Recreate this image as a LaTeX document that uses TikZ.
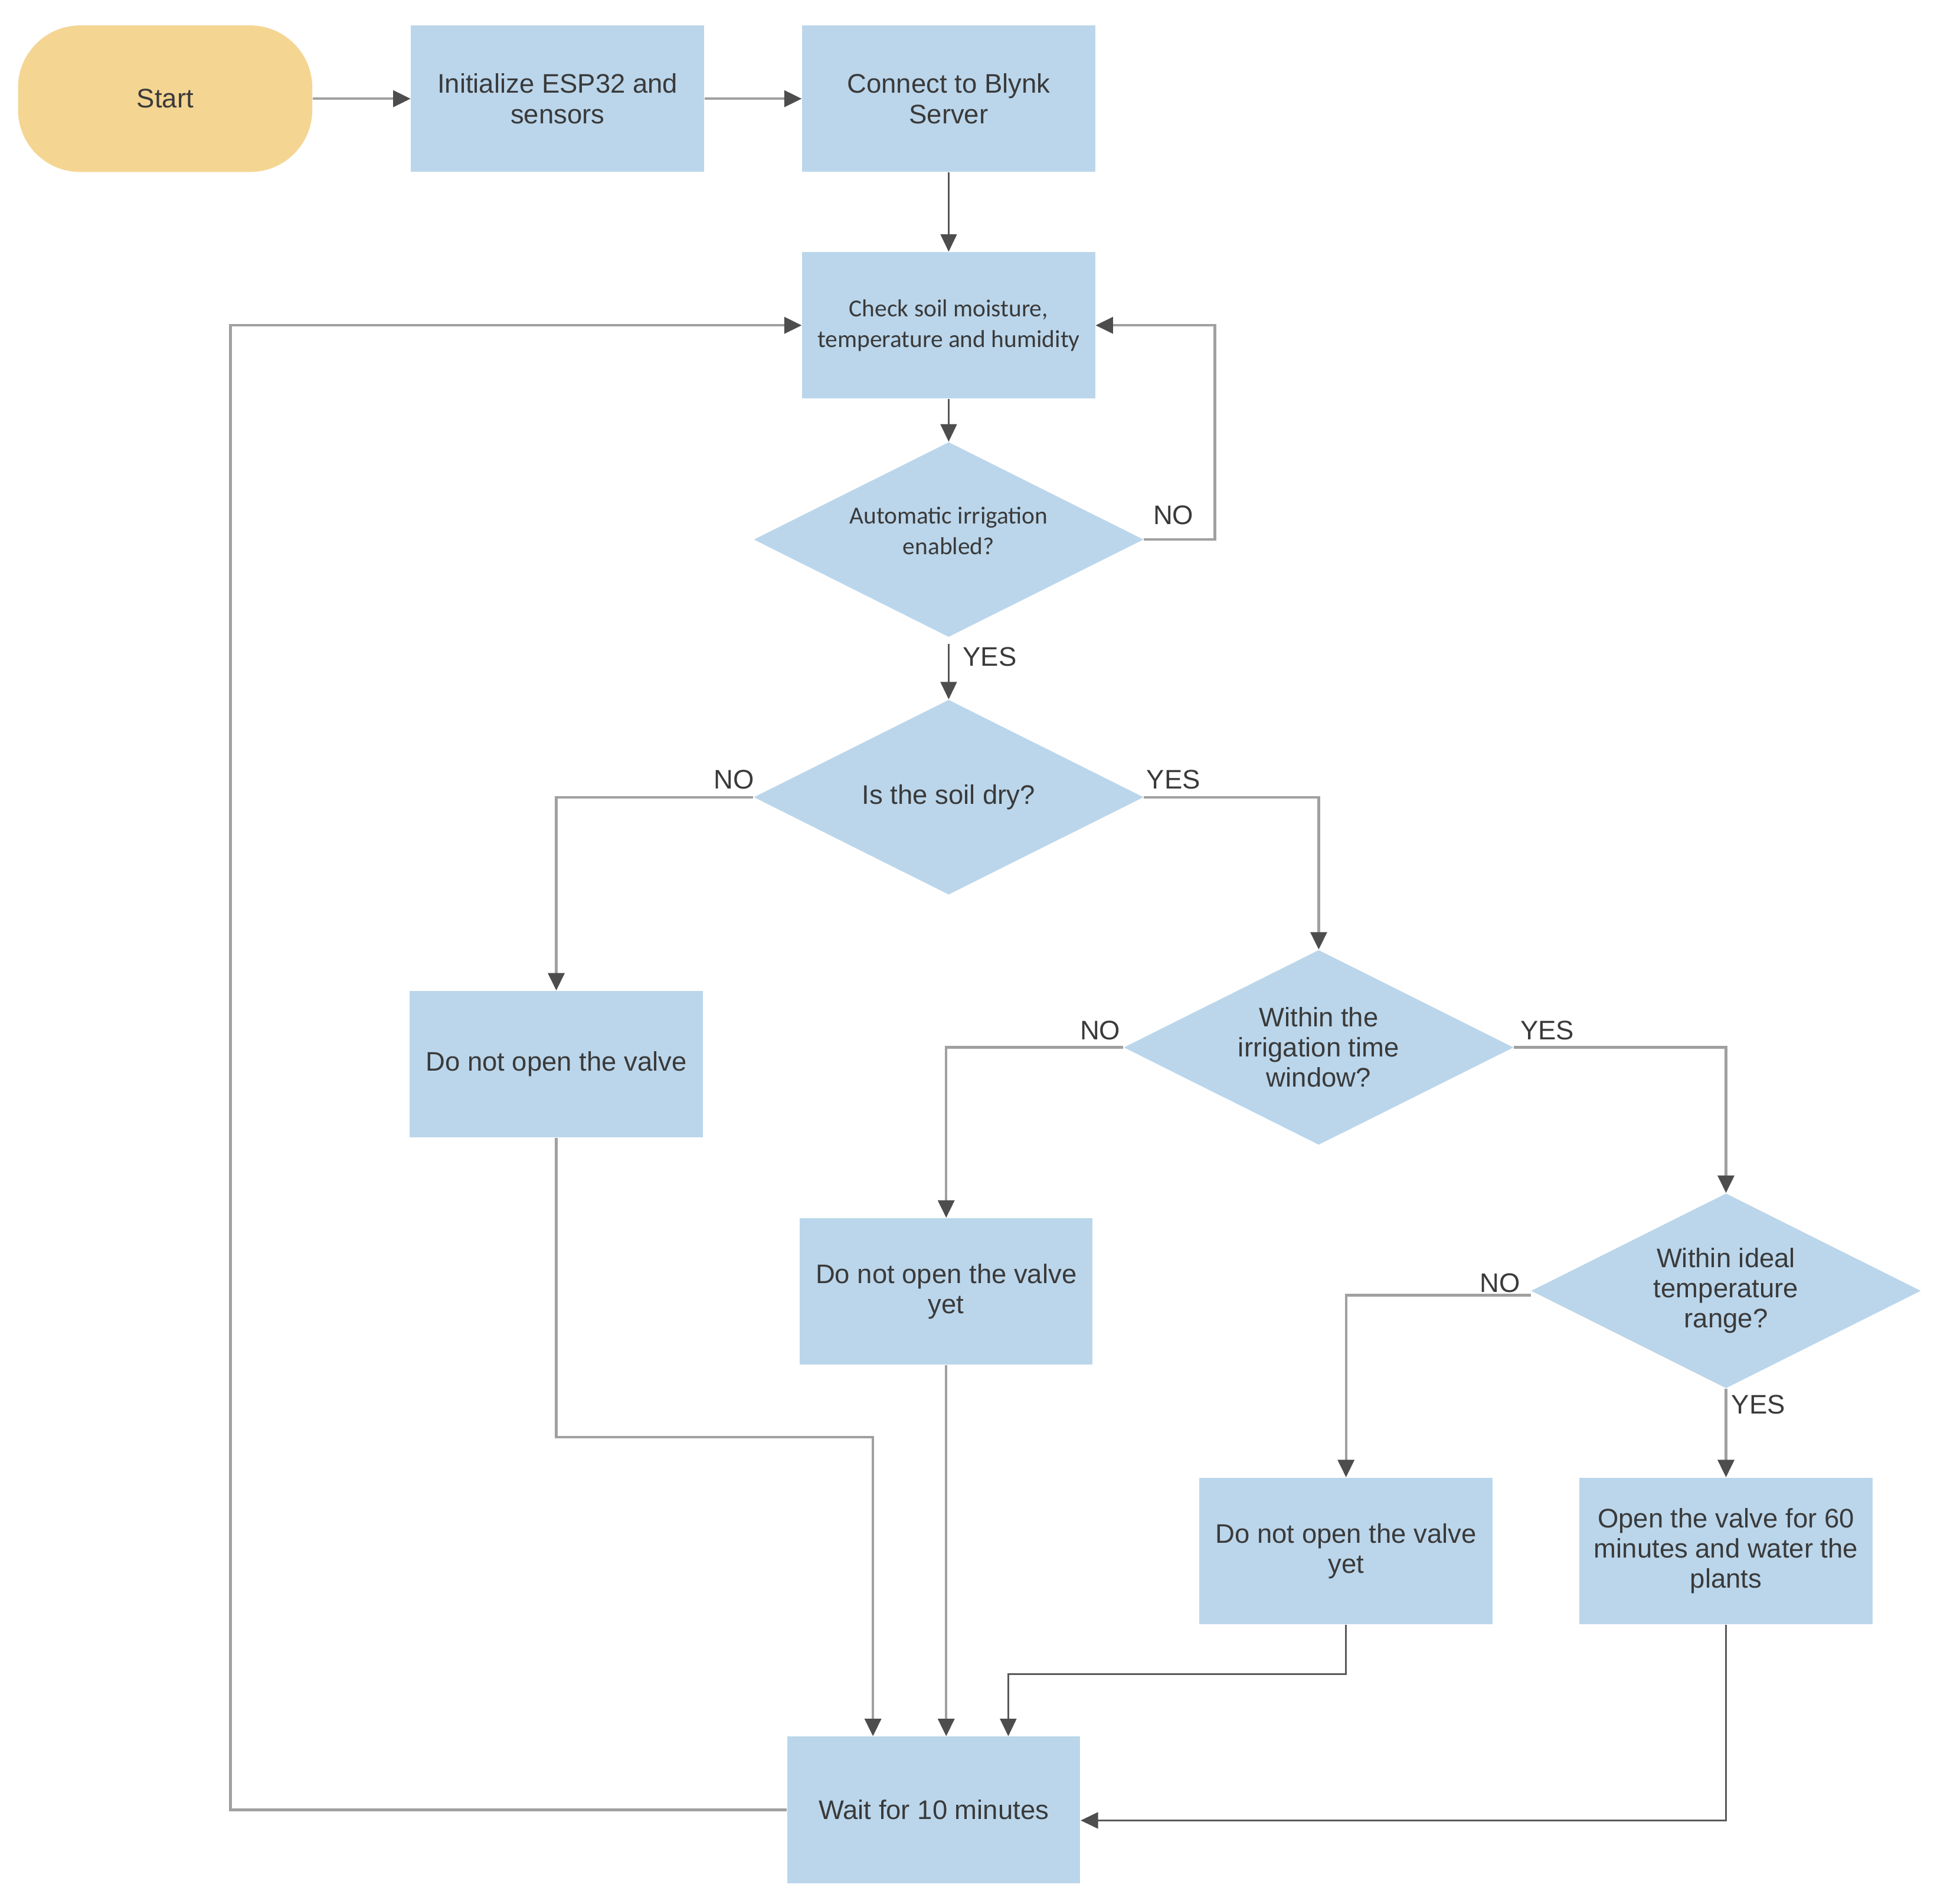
\documentclass[tikz,border=0pt]{standalone}
\usepackage{fontspec}
\setmainfont{Liberation Sans}
\newfontfamily\carlito{Carlito}
\usetikzlibrary{arrows.meta,shapes.geometric}
\definecolor{boxfill}{HTML}{BBD6EB}
\definecolor{startfill}{HTML}{F4D592}
\definecolor{txt}{HTML}{3A3A3A}
\definecolor{linegray}{HTML}{A0A0A0}
\definecolor{linedark}{HTML}{595959}
\definecolor{headc}{HTML}{4D4D4D}
\begin{document}
\begin{tikzpicture}[x=0.02cm,y=-0.02cm,
  font=\fontsize{12.3}{13.8}\selectfont,
  proc/.style={rectangle, fill=boxfill, minimum width=4.72cm, minimum height=2.36cm, inner sep=0pt, align=center, text=txt},
  dec/.style={diamond, fill=boxfill, minimum width=6.28cm, minimum height=3.14cm, inner sep=0pt, aspect=2, align=center, text=txt},
  term/.style={rectangle, rounded corners=1cm, fill=startfill, minimum width=4.74cm, minimum height=2.36cm, align=center, text=txt},
  cal/.style={font=\carlito\fontsize{11.2}{14.2}\selectfont},
  conn/.style={draw=linegray, line width=1.2pt, -{Triangle[length=8pt,width=7.5pt,color=headc]}},
  connd/.style={draw=linedark, line width=0.75pt, -{Triangle[length=8pt,width=7.5pt,color=headc]}},
  lbl/.style={inner sep=0pt, text=txt}]
\useasboundingbox (0,0) rectangle (1568,1533);
\fill[white] (0,0) rectangle (1568,1533);

% nodes
\node[term] (start) at (133,79.5) {Start};
\node[proc] (init) at (449,79.5) {Initialize ESP32 and\\sensors};
\node[proc] (blynk) at (764,79.5) {Connect to Blynk\\Server};
\node[proc, cal] (check) at (764,262) {Check soil moisture,\\temperature and humidity};
\node[dec, cal] (auto) at (764,434.5) {Automatic irrigation\\enabled?\\[-6pt]};
\node[dec] (dry) at (764,642) {Is the soil dry?};
\node[proc] (no1) at (448,857) {Do not open the valve};
\node[dec] (window) at (1062,843.5) {Within the\\irrigation time\\window?};
\node[proc] (no2) at (762,1040) {Do not open the valve\\yet};
\node[dec] (temp) at (1390,1039.5) {Within ideal\\temperature\\range?};
\node[proc] (no3) at (1084,1249) {Do not open the valve\\yet};
\node[proc] (open) at (1390,1249) {Open the valve for 60\\minutes and water the\\plants};
\node[proc] (wait) at (752,1457.5) {Wait for 10 minutes};

% connectors
\draw[conn] (start.east) -- (init.west);
\draw[conn] (init.east) -- (blynk.west);
\draw[connd] (blynk.south) -- (check.north);
\draw[connd] (check.south) -- (auto.north);
\draw[conn] (auto.east) -- ++(57,0) |- (check.east);
\draw[connd] ([yshift=-0.1cm]auto.south) -- (dry.north);
\draw[conn] (dry.west) -| (no1.north);
\draw[conn] (dry.east) -| (window.north);
\draw[conn] (window.west) -| (no2.north);
\draw[conn] (window.east) -| (temp.north);
\draw[conn] ([yshift=-0.07cm]temp.west) -| (no3.north);
\draw[conn] (temp.south) -- (open.north);
\draw[conn] (no1.south) -- ++(0,241) -| ([xshift=-0.98cm]wait.north);
\draw[conn] (no2.south) -- (no2.south |- wait.north);
\draw[connd] (no3.south) -- ++(0,40) -| ([xshift=1.2cm]wait.north);
\draw[connd] (open.south) |- ([yshift=-0.17cm]wait.east);
\draw[conn] (wait.west) -- ++(-448,0) |- (check.west);

% labels
\node[lbl] (lno1) at (945,415) {NO};
\node[lbl] (lyes1) at (797,529) {YES};
\node[lbl] (lno2) at (591,628) {NO};
\node[lbl] (lyes2) at (945,628) {YES};
\node[lbl] (lno3) at (886,830) {NO};
\node[lbl] (lyes3) at (1246,830) {YES};
\node[lbl] (lno4) at (1208,1033) {NO};
\node[lbl] (lyes4) at (1416,1131) {YES};
\end{tikzpicture}
\end{document}
